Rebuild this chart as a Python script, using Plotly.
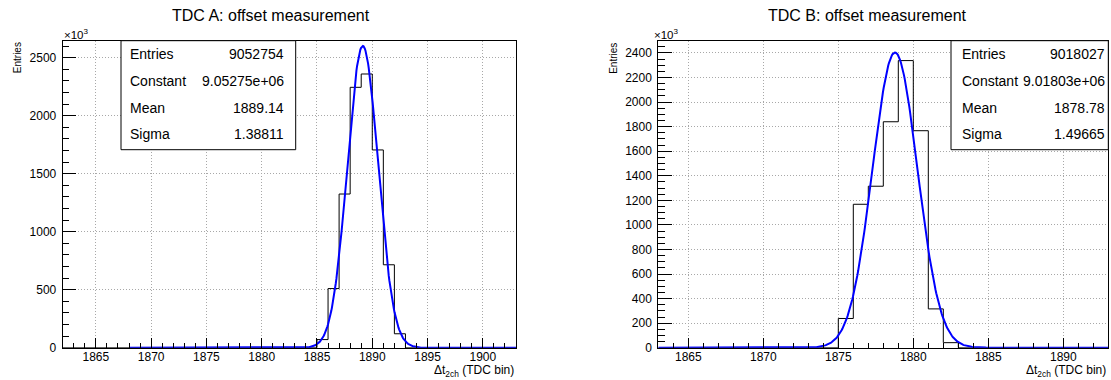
import numpy as np
import plotly.graph_objects as go

W, H = 1111, 380

# ---- data (bin contents in units of 10^3 entries, unit-width bins) ----
a_bins_lo, a_bins_hi = 1862, 1903
a_first_bin = 1885
a_counts = [70, 510, 1325, 2245, 2360, 1705, 715, 120]
a_fit = {"Entries": 9052754, "Constant": 9.05275e+06, "Mean": 1889.14, "Sigma": 1.38811}
a_fit_range = (1868, 1903)

b_bins_lo, b_bins_hi = 1863, 1893
b_first_bin = 1875
b_counts = [238, 1168, 1315, 1840, 2338, 1767, 316, 41]
b_fit = {"Entries": 9018027, "Constant": 9.01803e+06, "Mean": 1878.78, "Sigma": 1.49665}
b_fit_range = (1863, 1893)

a_xticks = [1865, 1870, 1875, 1880, 1885, 1890, 1895, 1900]
b_xticks = [1865, 1870, 1875, 1880, 1885, 1890]
a_yticks = [0, 500, 1000, 1500, 2000, 2500]
b_yticks = [0, 200, 400, 600, 800, 1000, 1200, 1400, 1600, 1800, 2000, 2200, 2400]

titles = ["TDC A: offset measurement", "TDC B: offset measurement"]
stat_labels = ["Entries", "Constant", "Mean", "Sigma"]

FONT = "Liberation Sans, Arial, Helvetica, sans-serif"


def px(x):
    return x / W


def py(y):
    return 1 - y / H


def step_xy(lo, hi, first, counts):
    edges = np.arange(lo, hi + 1)
    vals = np.zeros(hi - lo)
    vals[first - lo:first - lo + len(counts)] = counts
    xs = list(edges)
    ys = list(vals) + [vals[-1]]
    return xs, ys


def gausn(fit, rng):
    x = np.linspace(rng[0], rng[1], 600)
    c, m, s = fit["Constant"], fit["Mean"], fit["Sigma"]
    y = c / (np.sqrt(2 * np.pi) * s) * np.exp(-0.5 * ((x - m) / s) ** 2) / 1e3
    return x, y


fig = go.Figure()

panels = [
    dict(lo=a_bins_lo, hi=a_bins_hi, first=a_first_bin, counts=a_counts, fit=a_fit,
         frange=a_fit_range, xr=[1862, 1903], yr=[0, 2647], xt=a_xticks, yt=a_yticks,
         ydt=100, xd=[62.7, 516.0], box=[121, 295.7], lab_x=128.3, val_x=286.0,
         title_x=270.7, exp_x=62.0, suffix=""),
    dict(lo=b_bins_lo, hi=b_bins_hi, first=b_first_bin, counts=b_counts, fit=b_fit,
         frange=b_fit_range, xr=[1863, 1893], yr=[0, 2500], xt=b_xticks, yt=b_yticks,
         ydt=50, xd=[658.3, 1108.3], box=[951, 1108.3], lab_x=960.0, val_x=1106.5,
         title_x=867.8, exp_x=651.5, suffix="2"),
]

y_top, y_bot = 40.7, 347.7
annotations = []
shapes = []

for p in panels:
    xa = "x" + p["suffix"]
    ya = "y" + p["suffix"]
    hx, hy = step_xy(p["lo"], p["hi"], p["first"], p["counts"])
    fig.add_trace(go.Scatter(x=hx, y=hy, mode="lines", line=dict(color="black", width=1, shape="hv"),
                             xaxis=xa, yaxis=ya, showlegend=False, hoverinfo="skip"))
    gx, gy = gausn(p["fit"], p["frange"])
    fig.add_trace(go.Scatter(x=gx, y=gy, mode="lines", line=dict(color="#0000ff", width=2),
                             xaxis=xa, yaxis=ya, showlegend=False))

    x_len = p["xd"][1] - p["xd"][0]
    f_h = y_bot - y_top
    common = dict(showline=True, mirror=True, linecolor="black", linewidth=1,
                  showgrid=True, gridcolor="#a8a8a8", griddash="1px,2px", gridwidth=1,
                  zeroline=False, ticks="inside", tickcolor="black", automargin=False,
                  tickfont=dict(family=FONT, size=12, color="black"))
    xkey = "xaxis" + p["suffix"]
    ykey = "yaxis" + p["suffix"]
    fig.layout[xkey] = dict(common, domain=[px(p["xd"][0]), px(p["xd"][1])], range=p["xr"],
                            anchor=ya, tickmode="array", tickvals=p["xt"],
                            ticklen=0.03 * f_h, ticklabelstandoff=-2,
                            minor=dict(dtick=1, tick0=0, ticks="inside", ticklen=0.015 * f_h,
                                       tickcolor="black", showgrid=False))
    fig.layout[ykey] = dict(common, domain=[py(y_bot), py(y_top)], range=p["yr"], anchor=xa,
                            tickmode="array", tickvals=p["yt"], ticklen=0.03 * x_len,
                            ticklabelstandoff=3,
                            minor=dict(dtick=p["ydt"], tick0=0, ticks="inside",
                                       ticklen=0.015 * x_len, tickcolor="black", showgrid=False))

    # statistics box
    shapes.append(dict(type="rect", xref="paper", yref="paper",
                       x0=px(p["box"][0]), x1=px(p["box"][1]), y0=py(149.7), y1=py(y_top),
                       line=dict(color="black", width=1), fillcolor="white", layer="above"))
    stat_vals = [f"{p['fit']['Entries']}", f"{p['fit']['Constant']:.5e}",
                 f"{p['fit']['Mean']:.2f}", f"{p['fit']['Sigma']:.5f}"]
    for lab, val, yy in zip(stat_labels, stat_vals, [54.5, 81.0, 108.0, 134.5]):
        annotations.append(dict(text=lab, x=px(p["lab_x"]), y=py(yy), xref="paper", yref="paper",
                                xanchor="left", yanchor="middle", showarrow=False,
                                font=dict(family=FONT, size=14, color="black")))
        annotations.append(dict(text=val, x=px(p["val_x"]), y=py(yy), xref="paper", yref="paper",
                                xanchor="right", yanchor="middle", showarrow=False,
                                font=dict(family=FONT, size=14, color="black")))

    # titles and axis labels
    annotations.append(dict(text=titles[0] if p["suffix"] == "" else titles[1],
                            x=px(p["title_x"]), y=py(15), xref="paper", yref="paper",
                            xanchor="center", yanchor="middle", showarrow=False,
                            font=dict(family=FONT, size=16, color="black")))
    annotations.append(dict(text="×10<sup>3</sup>", x=px(p["exp_x"]), y=py(34), xref="paper",
                            yref="paper", xanchor="left", yanchor="middle", showarrow=False,
                            font=dict(family=FONT, size=11.5, color="black")))
    annotations.append(dict(text="Δt<sub>2ch</sub> (TDC bin)", x=px(p["xd"][1]), y=py(371),
                            xref="paper", yref="paper", xanchor="right", yanchor="middle",
                            showarrow=False, font=dict(family=FONT, size=12, color="black")))
    annotations.append(dict(text="Entries", x=px(p["xd"][0] - 45.5), y=py(40.5), xref="paper",
                            yref="paper", xanchor="center", yanchor="top", textangle=-90,
                            showarrow=False, font=dict(family=FONT, size=10, color="black")))

fig.update_layout(width=W, height=H, margin=dict(l=0, r=0, t=0, b=0, pad=0, autoexpand=False),
                  paper_bgcolor="white", plot_bgcolor="white",
                  annotations=annotations, shapes=shapes)

fig.write_html("out.html")
